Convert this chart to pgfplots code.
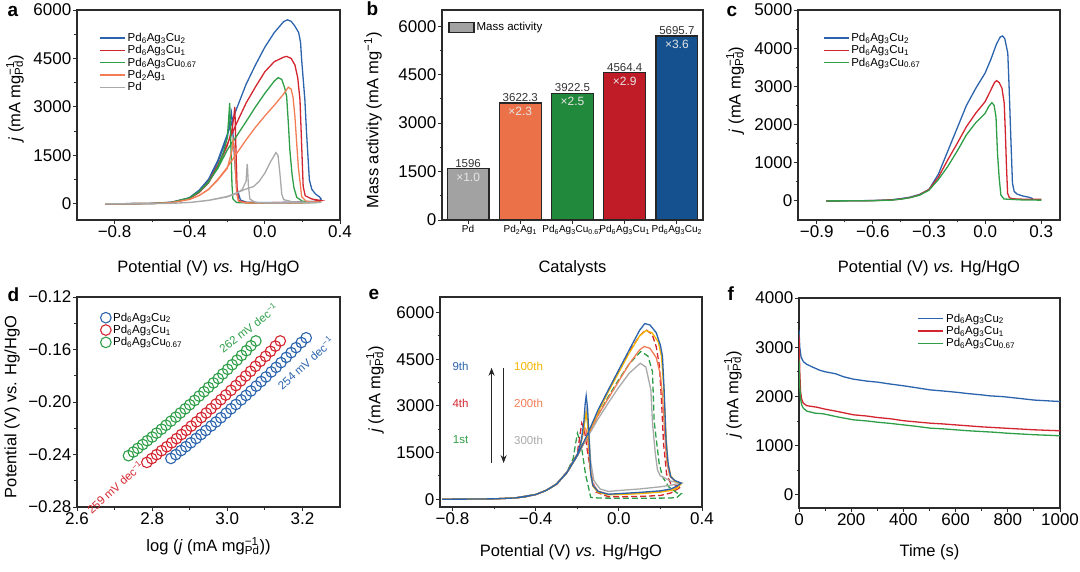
\documentclass[border=0pt]{standalone}
\usepackage{fontspec}
\setmainfont{Liberation Sans}
\usepackage{pgfplots}
\pgfplotsset{compat=1.18}
\usetikzlibrary{arrows.meta}

\newcommand{\fs}[1]{\fontsize{#1}{#1}\selectfont}
\newcommand{\mgpd}{mg\rlap{\textsuperscript{−1}}\textsubscript{Pd}}
\newcommand{\PAC}[1]{Pd\textsubscript{6}Ag\textsubscript{3}Cu\textsubscript{#1}}

\definecolor{cblue}{HTML}{2B64AD}
\definecolor{cred}{HTML}{D3252F}
\definecolor{cgreen}{HTML}{2E9E48}
\definecolor{corange}{HTML}{F27D55}
\definecolor{cgray}{HTML}{A9A9A9}
\definecolor{cyellow}{HTML}{F5B400}
\definecolor{bgray}{HTML}{A2A2A2}
\definecolor{borange}{HTML}{EB7149}
\definecolor{bgreen}{HTML}{21893B}
\definecolor{bred}{HTML}{C01C27}
\definecolor{bblue}{HTML}{15518F}
\definecolor{axisc}{HTML}{2B2B2B}

\pgfplotsset{
  panel/.style={
    scale only axis, height=210pt,
    axis line style={axisc, line width=1.1pt},
    tick style={axisc, line width=0.9pt},
    major tick length=4pt, minor tick length=2.5pt,
    tick align=outside, tick pos=left,
    ticklabel style={font=\fs{17}, inner sep=1.5pt},
    /pgf/number format/assume math mode=true,
    /pgf/number format/1000 sep={},
    scaled ticks=false,
    clip mode=individual,
    legend cell align=left,
    legend style={draw=none, fill=none, font=\fs{11.5}, row sep=-1.5pt, inner sep=1pt},
    legend image code/.code={\draw[##1, line width=1.5pt] (0pt,0pt) -- (25pt,0pt);},
  },
  boxlegend/.style={legend image code/.code={\draw[##1] (0pt,-5pt) rectangle (25pt,5pt);}},
  marklegend/.style={legend image code/.code={\draw[mark repeat=2,mark phase=2,##1] plot coordinates {(0pt,0pt) (5pt,0pt) (10pt,0pt)};}},
  xlab/.style={every axis x label/.style={at={(axis description cs:0.5,#1)}, anchor=base, font=\fs{16.5}}},
  ylab/.style 2 args={every axis y label/.style={at={(axis description cs:#1,#2)}, rotate=90, anchor=center, font=\fs{16.5}}},
  cv/.style={line width=1.3pt},
  bar/.style={ybar, bar width=0.8, bar shift=0pt, draw=black!85, line width=1.2pt},
  tafel/.style={only marks, mark=o, mark size=5.3pt, line width=1.1pt},
}

\begin{document}
\begin{tikzpicture}

% ---------------- a ----------------
\begin{axis}[panel, at={(77pt,351pt)}, width=263pt,
  xmin=-1.0, xmax=0.4, ymin=-500, ymax=6000,
  xtick={-0.8,-0.4,0,0.4}, xticklabels={−0.8,−0.4,0.0,0.4}, minor x tick num=1,
  ytick={0,1500,3000,4500,6000}, minor y tick num=1,
  xlabel={Potential (V) \textit{vs.} Hg/HgO}, ylabel={\textit{j} (mA \mgpd)},
  xlab=-0.252, ylab={-0.236}{0.58},
  legend style={at={(axis description cs:0.08,0.905)}, anchor=north west},
]
\addplot[cv, cblue] coordinates {
(-0.85,0) (-0.7,5) (-0.6,15) (-0.5,50) (-0.45,100) (-0.4,200) (-0.35,420) (-0.3,760) (-0.25,1350) (-0.2,2150) (-0.15,2950) (-0.1,3700) (-0.05,4300) (0,4850) (0.05,5300) (0.1,5640) (0.12,5695) (0.14,5650) (0.16,5500) (0.18,5300) (0.19,5000) (0.196,4450) (0.205,3800) (0.213,3217) (0.222,2190) (0.237,740) (0.25,450) (0.27,300) (0.29,220) (0.3,150)
(0.29,90) (0.25,70) (0.2,55) (0.1,45) (0,40) (-0.1,50) (-0.13,120) (-0.15,500) (-0.16,1300) (-0.17,2200) (-0.178,2815) (-0.185,2600) (-0.2,2050) (-0.25,1300) (-0.3,720) (-0.35,400) (-0.4,190) (-0.5,48) (-0.6,14) (-0.85,0)};
\addlegendentry{\PAC{2}}
\addplot[cv, cred] coordinates {
(-0.85,0) (-0.7,4) (-0.6,12) (-0.5,45) (-0.45,90) (-0.4,180) (-0.35,370) (-0.3,680) (-0.25,1200) (-0.2,1850) (-0.15,2500) (-0.1,3120) (-0.05,3620) (0,4090) (0.05,4400) (0.1,4540) (0.116,4564) (0.14,4500) (0.16,4300) (0.175,3900) (0.187,3217) (0.196,1800) (0.204,535) (0.215,250) (0.25,150) (0.3,100)
(0.25,60) (0.1,40) (0,35) (-0.1,40) (-0.14,100) (-0.148,500) (-0.153,1500) (-0.158,2600) (-0.16,3000) (-0.165,2700) (-0.175,2300) (-0.2,1800) (-0.25,1150) (-0.3,650) (-0.35,350) (-0.4,170) (-0.5,42) (-0.6,11) (-0.85,0)};
\addlegendentry{\PAC{1}}
\addplot[cv, cgreen] coordinates {
(-0.85,0) (-0.7,4) (-0.6,12) (-0.5,45) (-0.45,90) (-0.4,190) (-0.35,380) (-0.3,680) (-0.25,1100) (-0.2,1670) (-0.15,2100) (-0.1,2545) (-0.05,3000) (0,3420) (0.05,3800) (0.071,3907) (0.09,3850) (0.105,3600) (0.116,3320) (0.125,2500) (0.133,1670) (0.145,900) (0.155,490) (0.17,200) (0.2,80) (0.3,50)
(0.2,30) (0,25) (-0.1,30) (-0.15,40) (-0.17,150) (-0.175,600) (-0.178,1200) (-0.183,2300) (-0.187,3124) (-0.192,2700) (-0.2,2050) (-0.22,1600) (-0.25,1150) (-0.3,660) (-0.35,370) (-0.4,185) (-0.5,44) (-0.6,11) (-0.85,0)};
\addlegendentry{\PAC{0.67}}
\addplot[cv, corange] coordinates {
(-0.85,0) (-0.7,3) (-0.6,10) (-0.5,35) (-0.4,140) (-0.35,260) (-0.3,450) (-0.25,760) (-0.2,1130) (-0.15,1560) (-0.1,1980) (-0.05,2370) (0,2720) (0.05,3050) (0.1,3400) (0.125,3610) (0.14,3550) (0.15,3300) (0.16,2700) (0.178,1150) (0.196,225) (0.22,80) (0.3,55)
(0.2,30) (0,25) (-0.1,30) (-0.14,80) (-0.15,300) (-0.158,1200) (-0.164,1800) (-0.169,1980) (-0.175,1650) (-0.2,1100) (-0.25,740) (-0.3,440) (-0.35,255) (-0.4,135) (-0.5,34) (-0.6,10) (-0.85,0)};
\addlegendentry{Pd\textsubscript{2}Ag\textsubscript{1}}
\addplot[cv, cgray] coordinates {
(-0.85,0) (-0.6,5) (-0.5,15) (-0.4,45) (-0.3,110) (-0.2,230) (-0.15,340) (-0.1,460) (-0.06,535) (-0.03,700) (0,950) (0.03,1300) (0.059,1587) (0.07,1500) (0.08,950) (0.09,300) (0.1,130) (0.15,60) (0.3,40)
(0.1,30) (0,30) (-0.05,40) (-0.08,150) (-0.088,600) (-0.092,1100) (-0.094,1237) (-0.1,700) (-0.12,450) (-0.15,320) (-0.2,215) (-0.3,105) (-0.4,42) (-0.5,14) (-0.85,0)};
\addlegendentry{Pd}
\end{axis}

% ---------------- b ----------------
\begin{axis}[panel, at={(442pt,351pt)}, width=261pt,
  xmin=-0.5, xmax=4.5, ymin=0, ymax=6500,
  xtick={0,1,2,3,4},
  xticklabels={Pd, Pd\textsubscript{2}Ag\textsubscript{1}, \PAC{0.67}, \PAC{1}, \PAC{2}},
  xticklabel style={font=\fs{10}},
  ytick={0,1500,3000,4500,6000}, minor y tick num=1,
  xlabel={Catalysts}, ylabel={Mass activity (mA mg\textsuperscript{−1})},
  xlab=-0.252, ylab={-0.264}{0.476},
  legend style={at={(axis description cs:0.02,0.955)}, anchor=north west},
]
\addplot[bar, fill=bgray, boxlegend] coordinates {(0,1596)};
\addlegendentry{Mass activity}
\addplot[bar, fill=borange] coordinates {(1,3622.3)};
\addplot[bar, fill=bgreen] coordinates {(2,3922.5)};
\addplot[bar, fill=bred] coordinates {(3,4564.4)};
\addplot[bar, fill=bblue] coordinates {(4,5695.7)};
\addplot[draw=none, point meta=explicit symbolic, nodes near coords,
  every node near coord/.style={anchor=south, font=\fs{11.5}, text=black!80, inner sep=1pt}]
  coordinates {(0,1596)[1596] (1,3622.3)[3622.3] (2,3922.5)[3922.5] (3,4564.4)[4564.4] (4,5695.7)[5695.7]};
\addplot[draw=none, point meta=explicit symbolic, nodes near coords,
  every node near coord/.style={anchor=north, yshift=-3pt, font=\fs{12}, text=white!90!black, inner sep=1pt}]
  coordinates {(0,1596)[×1.0] (1,3622.3)[×2.3] (2,3922.5)[×2.5] (3,4564.4)[×2.9] (4,5695.7)[×3.6]};
\end{axis}

% ---------------- c ----------------
\begin{axis}[panel, at={(798pt,351pt)}, width=262pt,
  xmin=-1.0, xmax=0.4, ymin=-500, ymax=5000,
  xtick={-0.9,-0.6,-0.3,0,0.3}, xticklabels={−0.9,−0.6,−0.3,0.0,0.3}, minor x tick num=1,
  ytick={0,1000,2000,3000,4000,5000}, minor y tick num=1,
  xlabel={Potential (V) \textit{vs.} Hg/HgO}, ylabel={\textit{j} (mA \mgpd)},
  xlab=-0.252, ylab={-0.24}{0.62},
  legend style={at={(axis description cs:0.09,0.905)}, anchor=north west},
]
\addplot[cv, cblue] coordinates {
(-0.85,0) (-0.7,3) (-0.6,10) (-0.5,30) (-0.45,60) (-0.4,100) (-0.35,170) (-0.3,300) (-0.25,700) (-0.2,1300) (-0.15,1900) (-0.1,2500) (-0.05,2950) (0,3350) (0.03,3700) (0.06,4100) (0.08,4290) (0.093,4320) (0.105,4250) (0.121,3870) (0.128,2990) (0.137,1680) (0.146,463) (0.155,250) (0.17,180) (0.2,130) (0.23,100) (0.25,70) (0.255,45)};
\addlegendentry{\PAC{2}}
\addplot[cv, cred] coordinates {
(-0.85,0) (-0.7,3) (-0.6,8) (-0.5,25) (-0.45,50) (-0.4,90) (-0.35,160) (-0.3,300) (-0.25,620) (-0.2,1073) (-0.15,1500) (-0.1,1945) (-0.05,2300) (0,2600) (0.03,2900) (0.05,3100) (0.061,3150) (0.075,3100) (0.09,2950) (0.102,2560) (0.108,1800) (0.114,900) (0.12,200) (0.13,80) (0.15,55) (0.2,45) (0.3,40)};
\addlegendentry{\PAC{1}}
\addplot[cv, cgreen] coordinates {
(-0.85,0) (-0.7,2) (-0.6,6) (-0.5,20) (-0.45,45) (-0.4,85) (-0.35,150) (-0.3,280) (-0.25,560) (-0.2,900) (-0.15,1300) (-0.1,1730) (-0.05,2050) (0,2295) (0.02,2480) (0.036,2575) (0.048,2500) (0.058,2200) (0.066,1250) (0.075,600) (0.084,157) (0.1,50) (0.2,25) (0.3,20)};
\addlegendentry{\PAC{0.67}}
\end{axis}

% ---------------- d ----------------
\begin{axis}[panel, at={(77pt,64pt)}, width=263pt,
  xmin=2.6, xmax=3.3, ymin=-0.28, ymax=-0.12,
  xtick={2.6,2.8,3.0,3.2}, xticklabels={2.6,2.8,3.0,3.2}, minor x tick num=1,
  ytick={-0.28,-0.24,-0.20,-0.16,-0.12}, yticklabels={−0.28,−0.24,−0.20,−0.16,−0.12}, minor y tick num=1,
  xlabel={log (\textit{j} (mA \mgpd))}, ylabel={Potential (V) vs. Hg/HgO},
  xlab=-0.214, ylab={-0.247}{0.476},
  legend style={at={(axis description cs:0.085,0.94)}, anchor=north west},
  marklegend,
]
\addplot[tafel, cblue] coordinates {
(2.850,-0.2430) (2.863,-0.2401) (2.877,-0.2370) (2.890,-0.2340) (2.903,-0.2311) (2.917,-0.2278) (2.930,-0.2248) (2.943,-0.2217) (2.957,-0.2183) (2.970,-0.2152) (2.983,-0.2120) (2.997,-0.2085) (3.010,-0.2052) (3.023,-0.2019) (3.037,-0.1984) (3.050,-0.1950) (3.063,-0.1916) (3.077,-0.1879) (3.090,-0.1844) (3.103,-0.1809) (3.117,-0.1771) (3.130,-0.1736) (3.143,-0.1700) (3.157,-0.1660) (3.170,-0.1624) (3.183,-0.1586) (3.197,-0.1547) (3.210,-0.1511)};
\addlegendentry{\PAC{2}}
\addplot[tafel, cred] coordinates {
(2.786,-0.2460) (2.799,-0.2431) (2.812,-0.2401) (2.825,-0.2371) (2.839,-0.2341) (2.852,-0.2311) (2.865,-0.2279) (2.878,-0.2248) (2.891,-0.2216) (2.904,-0.2184) (2.918,-0.2151) (2.931,-0.2118) (2.944,-0.2084) (2.957,-0.2051) (2.970,-0.2016) (2.983,-0.1982) (2.996,-0.1947) (3.010,-0.1911) (3.023,-0.1875) (3.036,-0.1839) (3.049,-0.1802) (3.062,-0.1766) (3.075,-0.1728) (3.088,-0.1690) (3.102,-0.1652) (3.115,-0.1614) (3.128,-0.1574) (3.141,-0.1535)};
\addlegendentry{\PAC{1}}
\addplot[tafel, cgreen] coordinates {
(2.737,-0.2409) (2.750,-0.2381) (2.762,-0.2353) (2.775,-0.2324) (2.787,-0.2295) (2.800,-0.2267) (2.812,-0.2237) (2.825,-0.2207) (2.837,-0.2177) (2.850,-0.2146) (2.863,-0.2115) (2.875,-0.2084) (2.888,-0.2052) (2.900,-0.2021) (2.913,-0.1988) (2.925,-0.1955) (2.938,-0.1922) (2.950,-0.1889) (2.963,-0.1855) (2.976,-0.1821) (2.988,-0.1786) (3.001,-0.1751) (3.013,-0.1716) (3.026,-0.1681) (3.038,-0.1645) (3.051,-0.1609) (3.063,-0.1572) (3.076,-0.1535)};
\addlegendentry{\PAC{0.67}}
\node[rotate=38, text=cgreen, font=\fs{11.5}] at (axis cs:3.056,-0.1436) {262 mV dec\textsuperscript{−1}};
\node[rotate=42, text=cblue, font=\fs{11.5}] at (axis cs:3.208,-0.1703) {254 mV dec\textsuperscript{−1}};
\node[rotate=42, text=cred, font=\fs{11.5}] at (axis cs:2.701,-0.2648) {259 mV dec\textsuperscript{−1}};
\end{axis}

% ---------------- e ----------------
\begin{axis}[panel, at={(440pt,64pt)}, width=262pt,
  xmin=-0.86, xmax=0.4, ymin=-250, ymax=6500,
  xtick={-0.8,-0.4,0,0.4}, xticklabels={−0.8,−0.4,0.0,0.4}, minor x tick num=1,
  ytick={0,1500,3000,4500,6000}, minor y tick num=1,
  xlabel={Potential (V) \textit{vs.} Hg/HgO}, ylabel={\textit{j} (mA \mgpd)},
  xlab=-0.238, ylab={-0.248}{0.56},
]
\addplot[cv, cgreen, dash pattern=on 6pt off 3pt] coordinates {
(-0.85,0) (-0.7,5) (-0.6,12) (-0.5,40) (-0.45,80) (-0.4,150) (-0.35,280) (-0.3,480) (-0.25,850) (-0.2,1400) (-0.15,2050) (-0.1,2700) (-0.05,3300) (0,3850) (0.05,4350) (0.106,4750) (0.14,4600) (0.162,4100) (0.17,2500) (0.194,1150) (0.21,720) (0.24,400) (0.28,200) (0.3,180)
(0.28,60) (0.25,40) (0.2,35) (0.1,30) (0,30) (-0.1,40) (-0.135,60) (-0.16,800) (-0.18,1700) (-0.199,2120) (-0.205,1900) (-0.22,1300) (-0.25,870) (-0.3,490) (-0.35,285) (-0.4,150) (-0.5,40) (-0.6,12) (-0.85,0)};
\addplot[cv, cred, dash pattern=on 6pt off 3pt] coordinates {
(-0.85,0) (-0.7,5) (-0.6,12) (-0.5,40) (-0.45,80) (-0.4,150) (-0.35,280) (-0.3,480) (-0.25,850) (-0.2,1400) (-0.15,2050) (-0.1,2800) (-0.05,3500) (0,4140) (0.05,4750) (0.1,5250) (0.13,5450) (0.16,5300) (0.18,4900) (0.195,4300) (0.205,3200) (0.215,1800) (0.23,800) (0.25,500) (0.3,400)
(0.25,200) (0.2,120) (0.1,90) (0,80) (-0.05,80) (-0.11,230) (-0.13,700) (-0.15,1500) (-0.165,2200) (-0.178,2440) (-0.185,2150) (-0.2,1450) (-0.25,870) (-0.3,490) (-0.35,285) (-0.4,150) (-0.5,40) (-0.6,12) (-0.85,0)};
\addplot[cv, cgray] coordinates {
(-0.85,0) (-0.7,5) (-0.6,12) (-0.5,40) (-0.45,80) (-0.4,150) (-0.35,280) (-0.3,480) (-0.25,850) (-0.2,1400) (-0.15,2000) (-0.1,2580) (-0.05,3100) (0,3600) (0.05,4050) (0.103,4370) (0.13,4250) (0.154,3520) (0.162,2440) (0.175,1500) (0.186,935) (0.2,750) (0.25,580) (0.3,520)
(0.25,450) (0.2,400) (0.1,330) (0,280) (-0.05,250) (-0.09,330) (-0.12,600) (-0.135,1200) (-0.145,2200) (-0.155,2900) (-0.16,2750) (-0.17,2200) (-0.185,1700) (-0.2,1400) (-0.25,870) (-0.3,490) (-0.35,285) (-0.4,150) (-0.5,40) (-0.6,12) (-0.85,0)};
\addplot[cv, corange] coordinates {
(-0.85,0) (-0.7,5) (-0.6,12) (-0.5,40) (-0.45,80) (-0.4,150) (-0.35,280) (-0.3,480) (-0.25,850) (-0.2,1400) (-0.15,2050) (-0.1,2700) (-0.05,3250) (0,3800) (0.05,4350) (0.1,4800) (0.122,4910) (0.15,4850) (0.18,4550) (0.2,4000) (0.21,3300) (0.22,2200) (0.23,1200) (0.245,750) (0.27,580) (0.3,520)
(0.28,380) (0.25,300) (0.2,240) (0.1,190) (0,165) (-0.05,160) (-0.1,260) (-0.125,500) (-0.138,1000) (-0.148,1800) (-0.158,2250) (-0.165,2300) (-0.172,2100) (-0.19,1650) (-0.2,1420) (-0.25,860) (-0.3,485) (-0.35,282) (-0.4,150) (-0.5,40) (-0.6,12) (-0.85,0)};
\addplot[cv, cyellow] coordinates {
(-0.85,0) (-0.7,5) (-0.6,12) (-0.5,40) (-0.45,80) (-0.4,150) (-0.35,280) (-0.3,480) (-0.25,850) (-0.2,1400) (-0.15,2080) (-0.1,2800) (-0.05,3460) (0,4080) (0.05,4700) (0.1,5250) (0.13,5420) (0.16,5350) (0.19,5050) (0.205,4600) (0.215,3700) (0.225,2300) (0.235,1200) (0.25,750) (0.27,580) (0.3,500)
(0.28,350) (0.25,280) (0.2,230) (0.1,180) (0,150) (-0.05,140) (-0.1,220) (-0.125,420) (-0.135,800) (-0.143,1700) (-0.15,2400) (-0.157,2750) (-0.163,2550) (-0.17,2200) (-0.185,1750) (-0.2,1420) (-0.25,860) (-0.3,485) (-0.35,282) (-0.4,150) (-0.5,40) (-0.6,12) (-0.85,0)};
\addplot[cv, cblue] coordinates {
(-0.85,0) (-0.7,5) (-0.6,12) (-0.5,40) (-0.45,80) (-0.4,150) (-0.35,280) (-0.3,480) (-0.25,850) (-0.2,1400) (-0.15,2100) (-0.1,2870) (-0.05,3520) (0,4160) (0.05,4800) (0.1,5430) (0.125,5645) (0.15,5600) (0.18,5350) (0.2,4950) (0.21,4590) (0.218,3500) (0.227,1900) (0.238,1100) (0.25,720) (0.27,600) (0.3,520)
(0.28,420) (0.25,330) (0.2,270) (0.1,220) (0,180) (-0.05,160) (-0.1,250) (-0.125,450) (-0.135,800) (-0.142,1800) (-0.15,2900) (-0.157,3320) (-0.162,3050) (-0.168,2500) (-0.18,1900) (-0.2,1430) (-0.25,860) (-0.3,485) (-0.35,282) (-0.4,150) (-0.5,40) (-0.6,12) (-0.85,0)};
\draw[-{Stealth[length=8pt,width=6pt]}, line width=1.3pt, black!85] (axis cs:-0.612,1161) -- (axis cs:-0.612,4226);
\draw[-{Stealth[length=8pt,width=6pt]}, line width=1.3pt, black!85] (axis cs:-0.554,4226) -- (axis cs:-0.554,1161);
\node[text=cblue, font=\fs{11.5}] at (axis cs:-0.761,4258) {9th};
\node[text=cred, font=\fs{11.5}] at (axis cs:-0.761,3065) {4th};
\node[text=cgreen, font=\fs{11.5}] at (axis cs:-0.761,1903) {1st};
\node[text=cyellow, font=\fs{11.5}] at (axis cs:-0.434,4258) {100th};
\node[text=corange, font=\fs{11.5}] at (axis cs:-0.434,3065) {200th};
\node[text=cgray, font=\fs{11.5}] at (axis cs:-0.434,1903) {300th};
\end{axis}

% ---------------- f ----------------
\begin{axis}[panel, at={(799pt,63pt)}, width=261pt,
  xmin=0, xmax=1000, ymin=-270, ymax=4000,
  xtick={0,200,400,600,800,1000}, minor x tick num=1,
  ytick={0,1000,2000,3000,4000}, minor y tick num=1,
  xlabel={Time (s)}, ylabel={\textit{j} (mA \mgpd)},
  xlab=-0.233, ylab={-0.253}{0.54},
  legend style={at={(axis description cs:0.45,0.94)}, anchor=north west},
]
\addplot[cv, cblue] coordinates {
(0,3350) (3,3000) (8,2800) (16.5,2707) (30,2650) (50,2600) (80,2530) (100,2500) (140,2460) (170,2400) (208,2350) (260,2310) (300,2290) (350,2250) (400,2215) (450,2175) (502,2132) (550,2110) (600,2085) (650,2055) (700,2030) (732,2010) (780,1995) (850,1955) (900,1925) (950,1910) (1000,1895)};
\addlegendentry{\PAC{2}}
\addplot[cv, cred] coordinates {
(0,3250) (3,2500) (6,2100) (10,1950) (16.5,1860) (30,1810) (68,1780) (100,1740) (150,1690) (208,1625) (260,1600) (300,1570) (350,1545) (400,1505) (450,1480) (502,1455) (550,1440) (600,1420) (650,1400) (700,1380) (750,1365) (800,1350) (850,1335) (900,1320) (950,1310) (1000,1300)};
\addlegendentry{\PAC{1}}
\addplot[cv, cgreen] coordinates {
(0,2750) (3,2200) (6,1950) (10,1830) (16.5,1760) (30,1700) (60,1660) (93,1645) (150,1580) (208,1523) (260,1500) (300,1475) (350,1450) (400,1420) (450,1390) (502,1354) (550,1340) (600,1320) (650,1300) (700,1285) (750,1270) (800,1250) (850,1235) (900,1220) (950,1210) (1000,1198)};
\addlegendentry{\PAC{0.67}}
\end{axis}

\node[anchor=base west, font=\fs{19}\bfseries] at (4pt,554pt) {a};
\node[anchor=base west, font=\fs{19}\bfseries] at (363pt,555pt) {b};
\node[anchor=base west, font=\fs{19}\bfseries] at (723pt,554pt) {c};
\node[anchor=base west, font=\fs{19}\bfseries] at (4pt,269pt) {d};
\node[anchor=base west, font=\fs{19}\bfseries] at (365pt,271pt) {e};
\node[anchor=base west, font=\fs{19}\bfseries] at (724pt,270pt) {f};

\pgfresetboundingbox
\path[use as bounding box] (0pt,0pt) rectangle (1080pt,571pt);
\end{tikzpicture}
\end{document}
